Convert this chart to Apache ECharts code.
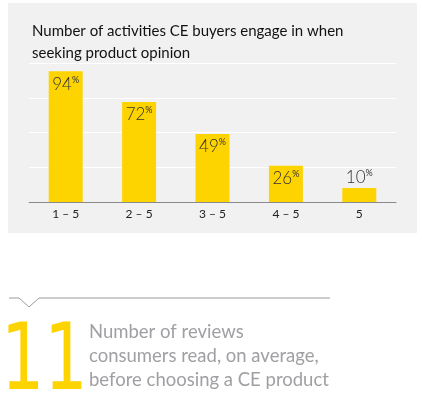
<!DOCTYPE html>
<html>
<head>
<meta charset="utf-8">
<script src="https://cdn.jsdelivr.net/npm/echarts@6/dist/echarts.min.js"></script>
<style>
  html, body { margin: 0; padding: 0; background: #fff; }
  #chart { width: 422px; height: 397px; }
</style>
</head>
<body>
<div id="chart"></div>
<script>
const categories = ['1 – 5', '2 – 5', '3 – 5', '4 – 5', '5']
const shares = [94, 72, 49, 26, 10]
const titleLines = ['Number of activities CE buyers engage in when', 'seeking product opinion']
const bigNumber = '11'
const noteLines = ['Number of reviews', 'consumers read, on average,', 'before choosing a CE product']

const yellow = '#FDD300'
const font = 'Lato, "Open Sans", sans-serif'

const chart = echarts.init(document.getElementById('chart'))

const barData = shares.map(v => ({
  value: v,
  label: { position: v < 15 ? 'top' : 'insideTop', distance: v < 15 ? 2 : 4 }
}))

const option = {
  animation: false,
  title: {
    text: titleLines.join('\n'),
    left: 27,
    top: 15,
    textStyle: { fontFamily: font, fontSize: 15, fontWeight: 'normal', color: '#111', lineHeight: 22 }
  },
  grid: { left: 29, right: 26, top: 63, bottom: 195 },
  xAxis: {
    type: 'category',
    data: categories,
    axisLine: { lineStyle: { color: '#8a8a8a', width: 1 } },
    axisTick: { show: false },
    axisLabel: { color: '#222', fontFamily: font, fontSize: 12, margin: 6 }
  },
  yAxis: {
    type: 'value',
    min: 0,
    max: 100,
    interval: 25,
    axisLabel: { show: false },
    axisLine: { show: false },
    axisTick: { show: false },
    splitLine: { lineStyle: { color: '#ffffff', width: 1 } }
  },
  series: [{
    type: 'bar',
    data: barData,
    barWidth: 34,
    itemStyle: { color: yellow },
    label: {
      show: true,
      formatter: p => '{n|' + p.value + '}{p|%}',
      rich: {
        n: { fontFamily: font, fontSize: 17, fontWeight: 300, color: '#333', lineHeight: 18 },
        p: { fontFamily: font, fontSize: 9, color: '#333', verticalAlign: 'top', lineHeight: 18, padding: [0, 0, 8, 0] }
      }
    }
  }],
  graphic: [
    {
      type: 'rect', z: -10, silent: true,
      shape: { x: 8, y: 3, width: 409, height: 230 },
      style: { fill: '#f1f1f1' }
    },
    {
      type: 'polyline', silent: true,
      shape: { points: [[9, 298], [19, 298], [29, 307], [39, 298], [330, 298]] },
      style: { stroke: '#9a9a9a', lineWidth: 1, fill: null }
    },
    {
      type: 'text', silent: true,
      x: 1, y: 319,
      scaleX: 0.74,
      style: { text: bigNumber, font: '92px "DejaVu Sans"', fill: yellow }
    },
    {
      type: 'text', silent: true,
      x: 89, y: 320,
      style: { text: noteLines.join('\n'), font: '18.5px ' + font, lineHeight: 24, fill: '#a0a0a4' }
    }
  ]
}

chart.setOption(option)
</script>
</body>
</html>
